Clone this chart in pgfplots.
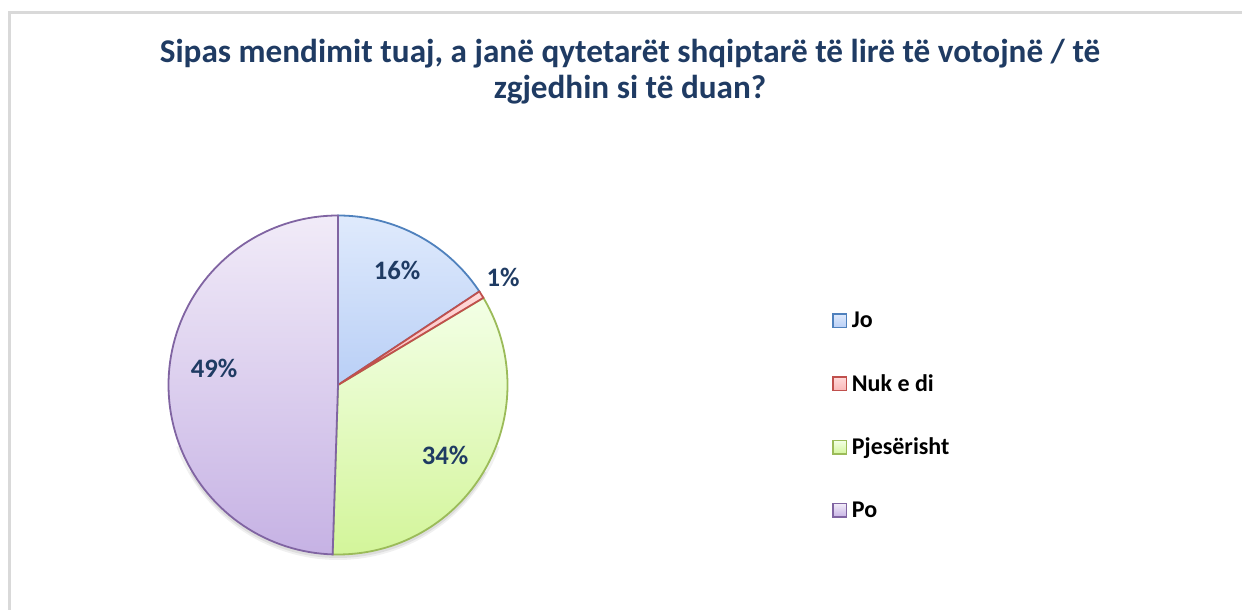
\documentclass[border=0pt]{standalone}
\usepackage{pgfplots}
\pgfplotsset{compat=1.18}
\usepackage{fontspec}
\setmainfont{Carlito}
\definecolor{navy}{HTML}{1F3B63}
\definecolor{joB}{HTML}{4F81BD}\definecolor{joT}{HTML}{DFEAFC}\definecolor{joD}{HTML}{B9CFF6}
\definecolor{nkB}{HTML}{C0504D}\definecolor{nkT}{HTML}{FFDADA}\definecolor{nkD}{HTML}{F9B8B8}
\definecolor{pjB}{HTML}{9BBB59}\definecolor{pjT}{HTML}{F3FFE6}\definecolor{pjD}{HTML}{D3F59A}
\definecolor{poB}{HTML}{8064A2}\definecolor{poT}{HTML}{F1EBF8}\definecolor{poD}{HTML}{C6B2E4}
\definecolor{frame}{HTML}{D9D9D9}
% values (percent)
\def\vJo{15.7}
\def\vNk{0.7}
\def\vPj{34.1}
\def\vPo{49.5}
\pgfmathsetmacro{\aA}{90}
\pgfmathsetmacro{\aB}{\aA-3.6*\vJo}
\pgfmathsetmacro{\aC}{\aB-3.6*\vNk}
\pgfmathsetmacro{\aD}{\aC-3.6*\vPj}
\pgfmathsetmacro{\aE}{\aD-3.6*\vPo}
\begin{document}
\begin{tikzpicture}
\begin{axis}[
  width=931.5pt, height=457.5pt, scale only axis,
  xmin=0, xmax=1242, ymin=0, ymax=610,
  hide axis, clip=false,
  samples=90,
  legend style={at={(axis cs:832,301)}, anchor=north west, draw=none, fill=none,
    font=\fontsize{18pt}{21pt}\selectfont\bfseries, row sep=29.6pt,
    inner sep=0pt, nodes={inner xsep=3.5pt}},
  legend cell align=left,
  legend image code/.code={\draw[#1] (0pt,-5pt) rectangle (10pt,5pt);},
]
% frame
\draw[frame, line width=1.6pt] (axis cs:9.5,-2) -- (axis cs:9.5,597.5) -- (axis cs:1244,597.5);
% soft shadow under the pie
\addplot[forget plot, draw=black, draw opacity=0.06, line width=6pt, domain=-160:-20]
  ({338+168*cos(x)},{222+168*sin(x)});
\addplot[forget plot, draw=black, draw opacity=0.08, line width=3pt, domain=-150:-30]
  ({338+169*cos(x)},{223+169*sin(x)});
% slices
\addplot[forget plot, draw=joB, line width=1.35pt, top color=joT, bottom color=joD, domain=\aB:\aA]
  ({338+169.5*cos(x)},{225+169.5*sin(x)}) -- (axis cs:338,225) -- cycle;
\addplot[forget plot, draw=pjB, line width=1.35pt, top color=pjT, bottom color=pjD, domain=\aD:\aC]
  ({338+169.5*cos(x)},{225+169.5*sin(x)}) -- (axis cs:338,225) -- cycle;
\addplot[forget plot, draw=nkB, line width=1.35pt, top color=nkT, bottom color=nkD, domain=\aC:\aB, samples=5]
  ({338+169.5*cos(x)},{225+169.5*sin(x)}) -- (axis cs:338,225) -- cycle;
\addplot[forget plot, draw=poB, line width=1.35pt, top color=poT, bottom color=poD, domain=\aE:\aD]
  ({338+169.5*cos(x)},{225+169.5*sin(x)}) -- (axis cs:338,225) -- cycle;
% legend
\addlegendimage{draw=joB, line width=1.2pt, top color=joT, bottom color=joD}
\addlegendentry{Jo}
\addlegendimage{draw=nkB, line width=1.2pt, top color=nkT, bottom color=nkD}
\addlegendentry{Nuk e di}
\addlegendimage{draw=pjB, line width=1.2pt, top color=pjT, bottom color=pjD}
\addlegendentry{Pjesërisht}
\addlegendimage{draw=poB, line width=1.2pt, top color=poT, bottom color=poD}
\addlegendentry{Po}
% data labels
\begin{scope}[every node/.style={text=navy, font=\fontsize{20pt}{24pt}\selectfont\bfseries, inner sep=0pt}]
\node at (axis cs:397,340) {16\%};
\node at (axis cs:503,333) {1\%};
\node at (axis cs:445,155) {34\%};
\node at (axis cs:214,242) {49\%};
\end{scope}
% title
\begin{scope}[every node/.style={text=navy, font=\fontsize{24.9pt}{26pt}\selectfont\bfseries, inner sep=0pt, anchor=base}]
\node at (axis cs:630,547) {Sipas mendimit tuaj, a janë qytetarët shqiptarë të lirë të votojnë / të};
\node at (axis cs:630,511) {zgjedhin si të duan?};
\end{scope}
\end{axis}
\pgfresetboundingbox
\path[use as bounding box] (current axis.south west) rectangle (current axis.north east);
\end{tikzpicture}
\end{document}
